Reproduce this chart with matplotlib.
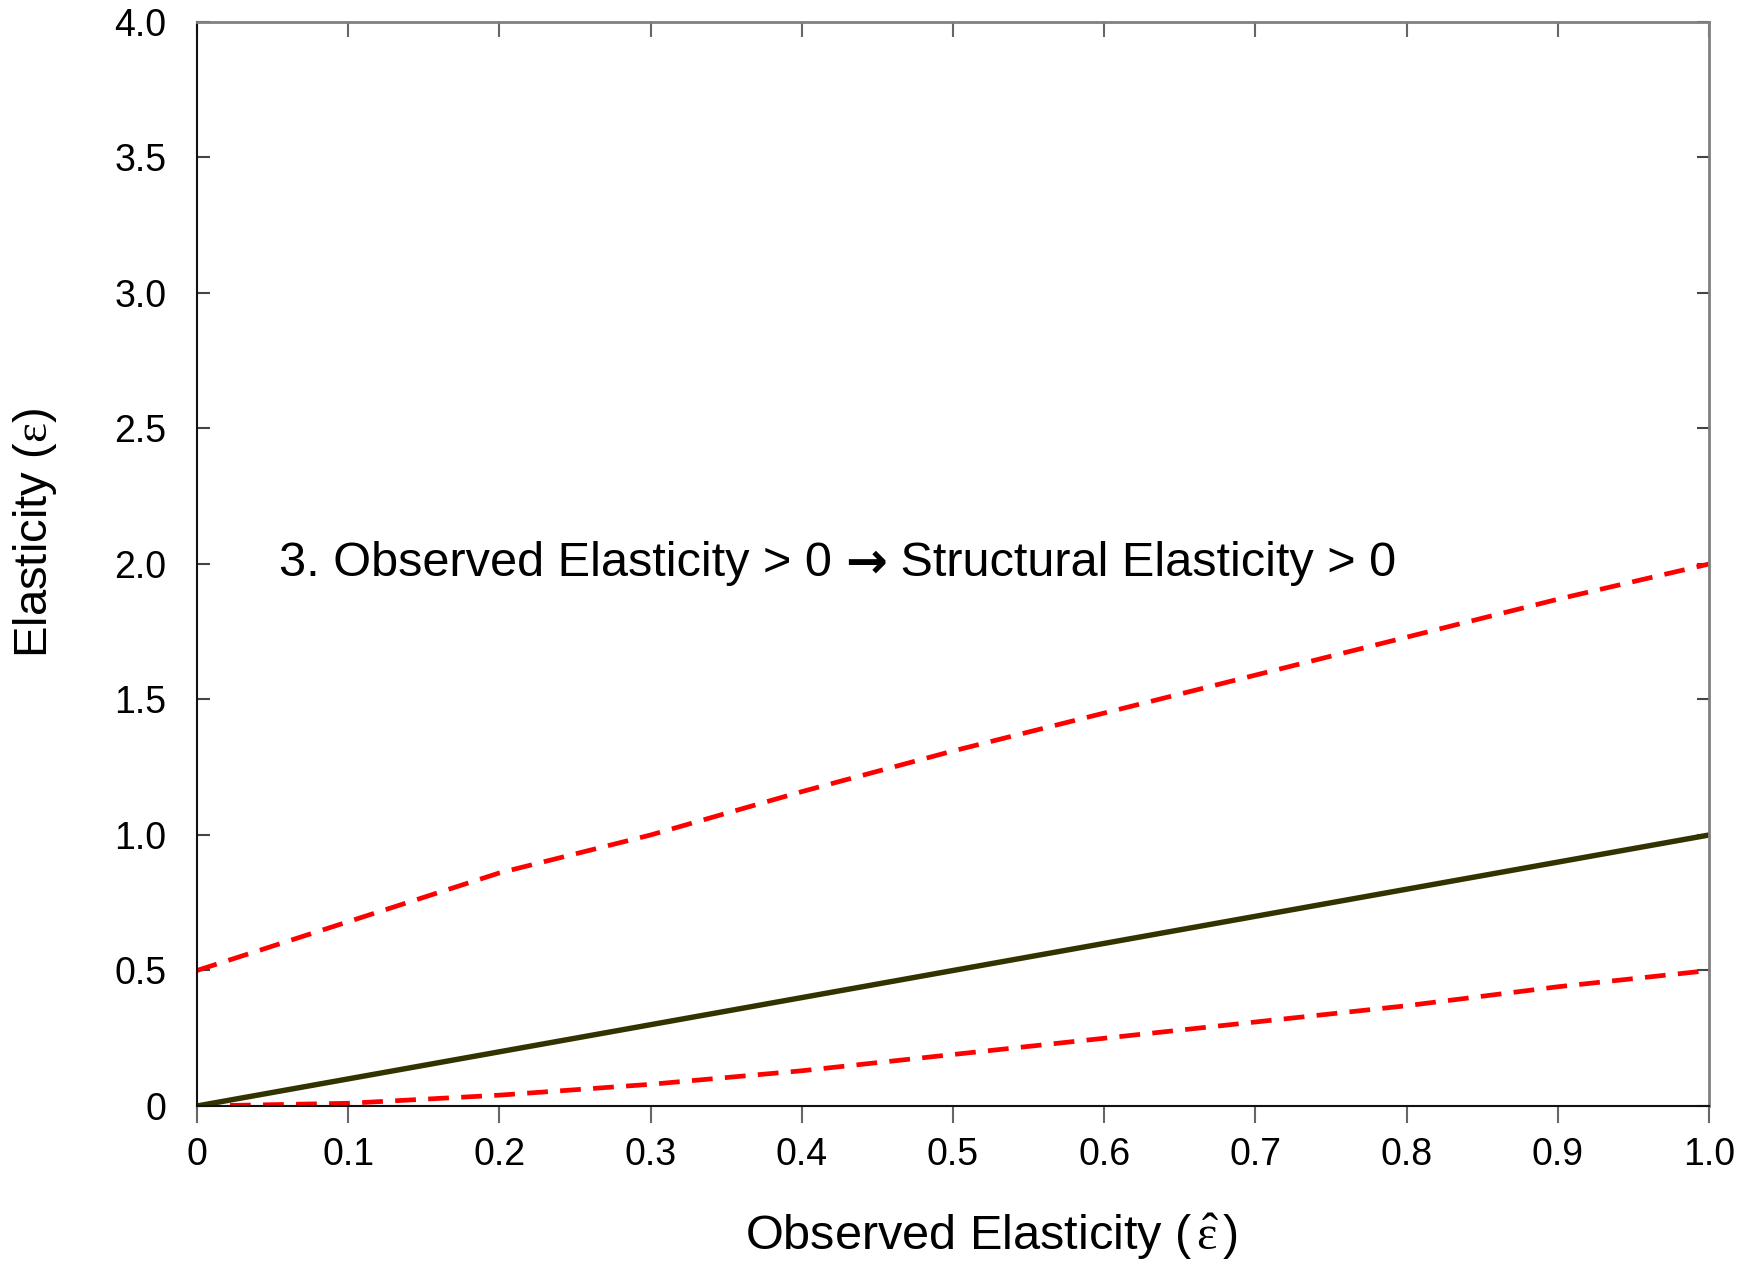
import numpy as np
import matplotlib.pyplot as plt

plt.rcParams['font.family'] = ['Liberation Sans', 'DejaVu Sans']
plt.rcParams['mathtext.fontset'] = 'custom'
plt.rcParams['mathtext.rm'] = 'Liberation Serif'
plt.rcParams['mathtext.it'] = 'Liberation Serif:italic'

# observed elasticity grid and bounds on the structural elasticity
obs = [0.0, 0.1, 0.2, 0.3, 0.4, 0.5, 0.6, 0.7, 0.8, 0.9, 1.0]
mid = [0.0, 0.1, 0.2, 0.3, 0.4, 0.5, 0.6, 0.7, 0.8, 0.9, 1.0]
upper = [0.5, 0.68, 0.86, 1.0, 1.16, 1.31, 1.45, 1.59, 1.73, 1.87, 2.0]
lower = [0.0, 0.01, 0.04, 0.08, 0.13, 0.19, 0.25, 0.31, 0.37, 0.44, 0.5]

xticks = [0, 0.1, 0.2, 0.3, 0.4, 0.5, 0.6, 0.7, 0.8, 0.9, 1.0]
xlabels = ['0', '0.1', '0.2', '0.3', '0.4', '0.5', '0.6', '0.7', '0.8', '0.9', '1.0']
yticks = [0, 0.5, 1.0, 1.5, 2.0, 2.5, 3.0, 3.5, 4.0]
ylabels = ['0', '0.5', '1.0', '1.5', '2.0', '2.5', '3.0', '3.5', '4.0']

fig = plt.figure(figsize=(17.52, 12.64), dpi=100)
ax = fig.add_axes([0.1124, 0.125, 0.8631, 0.8576])

ax.plot(obs, upper, color='#ff0000', lw=3.4, dashes=(4.4, 2.6))
ax.plot(obs, lower, color='#ff0000', lw=3.4, dashes=(4.4, 2.6))
ax.plot(obs, mid, color='#333300', lw=3.9)

ax.set_xlim(0, 1.0)
ax.set_ylim(0, 4.0)
ax.set_xticks(xticks)
ax.set_xticklabels(xlabels)
ax.set_yticks(yticks)
ax.set_yticklabels(ylabels)

ax.tick_params(axis='x', direction='out', length=12, width=1.5, color='#666666',
               labelsize=27, pad=10, top=True)
ax.tick_params(axis='y', direction='in', length=9, width=1.5, color='#444444',
               labelsize=27, pad=22, right=True)
# top ticks point into the box
for t in ax.xaxis.get_major_ticks():
    t.tick2line.set_marker(3)
    t.tick2line.set_markersize(11)

for s in ['left', 'bottom']:
    ax.spines[s].set_color('#111111')
    ax.spines[s].set_linewidth(1.5)
for s in ['top', 'right']:
    ax.spines[s].set_color('#808080')
    ax.spines[s].set_linewidth(2)

# note text, with a heavier arrow in the middle
t1 = ax.text(0.054, 2.0, '3. Observed Elasticity > 0 ', fontsize=35, va='center', ha='left')
t2 = ax.annotate('\u2192', xy=(1, 0.5), xycoords=t1, va='center', ha='left',
                 fontsize=36, family='DejaVu Sans', fontweight='bold')
ax.annotate(' Structural Elasticity > 0', xy=(1, 0.5), xycoords=t2, va='center',
            ha='left', fontsize=35)

fig.text(0.566, 0.0214, r'Observed Elasticity ($\,\hat{\mathrm{\varepsilon}}\,$)', fontsize=35,
         ha='center', va='center')
fig.text(0.02, 0.578, r'Elasticity ($\mathrm{\varepsilon}$)', fontsize=34, rotation=90,
         ha='center', va='center')

fig.savefig('out.png', dpi=100)
